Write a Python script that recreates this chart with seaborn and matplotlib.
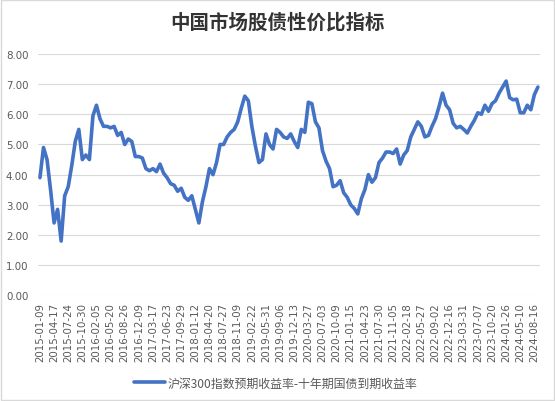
import numpy as np
import pandas as pd
import matplotlib
matplotlib.use("Agg")
import matplotlib.pyplot as plt
import seaborn as sns
from matplotlib.patches import Rectangle

# values, one point about every 3.5 weeks
spread = [
    3.9, 4.9, 4.5, 3.5, 2.4, 2.85, 1.8, 3.3, 3.6, 4.3,
    5.1, 5.5, 4.5, 4.65, 4.5, 5.95, 6.3, 5.85, 5.6, 5.6,
    5.55, 5.6, 5.3, 5.4, 5.0, 5.18, 5.1, 4.6, 4.6, 4.55,
    4.2, 4.13, 4.2, 4.1, 4.35, 4.05, 3.9, 3.7, 3.65, 3.45,
    3.55, 3.25, 3.15, 3.3, 2.85, 2.4, 3.1, 3.6, 4.2, 4.0,
    4.4, 5.0, 5.0, 5.25, 5.4, 5.5, 5.75, 6.2, 6.6, 6.45,
    5.6, 4.95, 4.4, 4.5, 5.35, 5.0, 4.85, 5.5, 5.4, 5.25,
    5.2, 5.35, 5.1, 4.9, 5.5, 5.4, 6.4, 6.35, 5.75, 5.55,
    4.8, 4.45, 4.2, 3.6, 3.65, 3.8, 3.4, 3.25, 3.0, 2.88,
    2.7, 3.2, 3.5, 4.0, 3.75, 3.9, 4.4, 4.55, 4.75, 4.75,
    4.7, 4.85, 4.35, 4.65, 4.8, 5.25, 5.5, 5.75, 5.6, 5.25,
    5.3, 5.6, 5.85, 6.25, 6.7, 6.3, 6.15, 5.7, 5.55, 5.6,
    5.5, 5.38, 5.6, 5.8, 6.05, 6.0, 6.3, 6.1, 6.35, 6.45,
    6.7, 6.9, 7.1, 6.55, 6.48, 6.5, 6.05, 6.05, 6.3, 6.15,
    6.65, 6.9,
]

date_labels = [
    "2015-01-09", "2015-04-17", "2015-07-24", "2015-10-30",
    "2016-02-05", "2016-05-20", "2016-08-26", "2016-12-09",
    "2017-03-17", "2017-06-23", "2017-09-29",
    "2018-01-12", "2018-04-20", "2018-07-27", "2018-11-09",
    "2019-02-22", "2019-05-31", "2019-09-06", "2019-12-13",
    "2020-03-27", "2020-07-03", "2020-10-09",
    "2021-01-15", "2021-04-23", "2021-07-30", "2021-11-05",
    "2022-02-18", "2022-05-27", "2022-09-02", "2022-12-16",
    "2023-03-31", "2023-07-07", "2023-10-20",
    "2024-01-26", "2024-05-10", "2024-08-16",
]

title = "中国市场股债性价比指标"
series_name = "沪深300指数预期收益率-十年期国债到期收益率"

df = pd.DataFrame({"pos": np.arange(len(spread)), "value": spread})

sns.set_theme(style="white")
plt.rcParams["font.family"] = ["DejaVu Sans"]
cjk = ["Noto Sans CJK SC", "DejaVu Sans"]

fig = plt.figure(figsize=(5.55, 4.02), dpi=100)
ax = fig.add_axes([0.0685, 0.2627, 0.9045, 0.6007])

sns.lineplot(data=df, x="pos", y="value", ax=ax, color="#4472C4",
             linewidth=2.6, label=series_name, legend=False)

ax.set_ylim(0, 8)
ax.set_yticks(np.arange(0, 9, 1))
ax.set_yticklabels([f"{v:.2f}" for v in range(0, 9)])
ax.set_xlim(-0.55, 141.6)
ax.set_xticks(np.arange(0, len(date_labels) * 4, 4))
ax.set_xticklabels(date_labels, rotation=90)
ax.grid(axis="y", color="#d9d9d9", linewidth=0.8)
ax.set_axisbelow(True)
for s in ax.spines.values():
    s.set_visible(False)
ax.tick_params(axis="both", length=0, colors="#595959", labelsize=7.4)
ax.tick_params(axis="y", pad=7)
ax.tick_params(axis="x", pad=5)
ax.set_xlabel("")
ax.set_ylabel("")

fig.text(0.5, 0.943, title, ha="center", va="center", fontsize=14,
         fontweight="bold", color="#333333", family=cjk)

handles, labels = ax.get_legend_handles_labels()
leg = fig.legend(handles, labels, loc="center", bbox_to_anchor=(0.496, 0.045),
                 frameon=False, handlelength=2.6, handletextpad=0.2,
                 prop={"family": cjk, "size": 8.6})
for t in leg.get_texts():
    t.set_color("#595959")

fig.patches.append(Rectangle((0.002, 0.002), 0.996, 0.995, transform=fig.transFigure,
                             fill=False, edgecolor="#d9d9d9", linewidth=1))

fig.savefig("out.png", dpi=100)
